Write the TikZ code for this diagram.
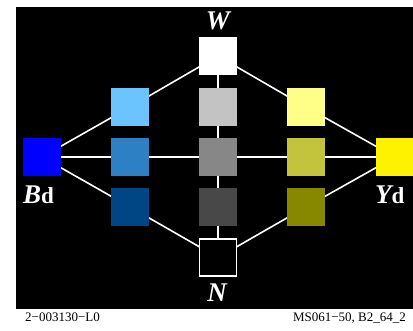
\documentclass[tikz,border=0pt]{standalone}
\usepackage{fontspec}
\setmainfont{Liberation Serif}
\usetikzlibrary{backgrounds}
\begin{document}
\begin{tikzpicture}[x=1pt,y=-1pt,
  sq/.style={draw=none,minimum size=38pt,inner sep=0pt,outer sep=0pt},
  conn/.style={draw=white,line width=1.6pt},
  lab/.style={text=white,inner sep=0pt,font=\fontsize{27}{27}\selectfont\bfseries\itshape},
  sub/.style={},
  foot/.style={text=black,inner sep=0pt,font=\fontsize{13}{13}\selectfont}]
\definecolor{cLB}{HTML}{6CC4FF}
\definecolor{cMB}{HTML}{2E80C4}
\definecolor{cDB}{HTML}{004584}
\definecolor{cLG}{HTML}{C3C3C3}
\definecolor{cMG}{HTML}{878787}
\definecolor{cDG}{HTML}{484848}
\definecolor{cLY}{HTML}{FFFF88}
\definecolor{cMY}{HTML}{C4C43C}
\definecolor{cDY}{HTML}{878700}
\useasboundingbox (0,0) rectangle (413,331);
% nodes
\node[sq,fill=blue] (Bd) at (42,157) {};
\node[sq,fill=cLB] (lb) at (130,107) {};
\node[sq,fill=cMB] (mb) at (130,157) {};
\node[sq,fill=cDB] (db) at (130,207) {};
\node[sq,fill=white] (W) at (218,56) {};
\node[sq,fill=cLG] (lg) at (218,107) {};
\node[sq,fill=cMG] (mg) at (218,157) {};
\node[sq,fill=cDG] (dg) at (218,207) {};
\node[sq,fill=black,draw=white,line width=1.3pt,minimum size=37pt] (N) at (218,257.5) {};
\node[sq,fill=cLY] (ly) at (306,107) {};
\node[sq,fill=cMY] (my) at (306,157) {};
\node[sq,fill=cDY] (dy) at (306,207) {};
\node[sq,fill=yellow] (Yd) at (395,157) {};
% background and connectors
\begin{scope}[on background layer]
\fill[white] (0,0) rectangle (413,331);
\fill[black] (16,7) rectangle (413,309);
\draw[conn] (Bd.center) -- (lb.center) -- (W.center) -- (ly.center) -- (Yd.center);
\draw[conn] (Bd.center) -- (db.center) -- (N.center) -- (dy.center) -- (Yd.center);
\draw[conn] (Bd.center) -- (mb.center) -- (mg.center) -- (my.center) -- (Yd.center);
\draw[conn] (W.center) -- (lg.center) -- (mg.center) -- (dg.center) -- (N.center);
\end{scope}
% labels
\node[lab,anchor=base] (Wl) at (218,30) {W};
\node[lab,anchor=base] (Nl) at (217,302) {N};
\node[lab,anchor=base west] (Bl) at (23,204) {B{\upshape\fontsize{23}{23}\selectfont d}};
\node[lab,anchor=base west] (Yl) at (375,204) {Y{\upshape\fontsize{23}{23}\selectfont d}};
\node[foot,anchor=base west] (f1) at (25,322) {2−003130−L0};
\node[foot,anchor=base east] (f2) at (406,322) {MS061−50, B2\_64\_2};
\end{tikzpicture}
\end{document}
